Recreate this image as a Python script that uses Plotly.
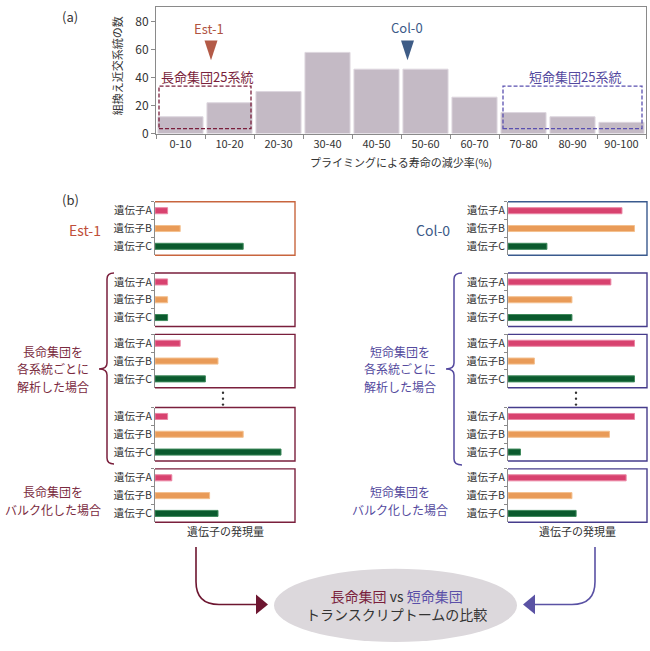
import plotly.graph_objects as go

W, H = 650, 651
def px(x): return x / W
def py(y): return 1 - y / H

FONT = "Noto Sans CJK JP"

# ---------------- data ----------------
hist_categories = ["0-10", "10-20", "20-30", "30-40", "40-50",
                   "50-60", "60-70", "70-80", "80-90", "90-100"]
hist_counts = [12, 22, 30, 58, 46, 46, 26, 15, 12, 8]

gene_labels = ["遺伝子A", "遺伝子B", "遺伝子C"]
gene_colors = ["#d8426f", "#e99b58", "#0b5a2e"]
gene_edges = ["#ea86a4", "#f3c08f", "#3f8a5c"]

est1_expr = [9, 18, 63]
long_line1_expr = [9, 9, 9]
long_line2_expr = [18, 45, 36]
long_line3_expr = [9, 63, 90]
long_bulk_expr = [12, 39, 45]

col0_expr = [82, 91, 28]
short_line1_expr = [74, 46, 46]
short_line2_expr = [91, 19, 91]
short_line3_expr = [91, 73, 9]
short_bulk_expr = [85, 46, 49]

MAROON = "#7a1f3c"
PURPLE = "#53489e"
EST_C = "#b0533f"
COL_C = "#3b5a88"

fig = go.Figure()

# ---------------- (a) histogram ----------------
fig.add_trace(go.Bar(
    x=hist_categories, y=hist_counts,
    marker=dict(color="#c4bac5", line=dict(color="#ddd6de", width=1)),
    width=0.92, xaxis="x", yaxis="y", hoverinfo="skip"))

layout = dict(
    width=W, height=H, margin=dict(l=0, r=0, t=0, b=0),
    paper_bgcolor="white", plot_bgcolor="white", showlegend=False,
    font=dict(family=FONT, color="#333333"),
    xaxis=dict(domain=[px(156), px(646)], anchor="y", showline=True, mirror=True,
               linecolor="#8a8a8a", linewidth=1, ticks="outside", tickson="boundaries",
               ticklen=4, tickcolor="#8a8a8a", tickfont=dict(size=11, color="#333"),
               showgrid=False, fixedrange=True),
    yaxis=dict(domain=[py(135), py(7)], anchor="x", range=[0, 90.5], showline=True,
               mirror=True, linecolor="#8a8a8a", linewidth=1, ticks="outside",
               ticklen=4, tickcolor="#8a8a8a", tickvals=[0, 20, 40, 60, 80],
               tickfont=dict(size=12, color="#333"), showgrid=False, zeroline=False),
)

annotations = []
shapes = []

def text(x, y, t, size, color, **kw):
    d = dict(x=px(x), y=py(y), xref="paper", yref="paper", text=t, showarrow=False,
             font=dict(size=size, color=color, family=FONT),
             xanchor="center", yanchor="middle")
    d.update(kw)
    annotations.append(d)

text(70, 17, "(a)", 13, "#333")
text(117, 67, "組換え近交系統の数", 11, "#333", textangle=-90)
text(401, 164, "プライミングによる寿命の減少率(%)", 11, "#333")
text(209, 29, "Est-1", 13, EST_C)
text(407, 28, "Col-0", 13, COL_C)
text(207, 77, "長命集団25系統", 13, MAROON)
text(575, 77, "短命集団25系統", 13, PURPLE)

def path_pts(pts, close=True):
    s = "M " + " L ".join(f"{px(a):.5f},{py(b):.5f}" for a, b in pts)
    return s + (" Z" if close else "")

# triangles
shapes.append(dict(type="path", xref="paper", yref="paper",
                   path=path_pts([(204.5, 41), (217.5, 41), (211, 61)]),
                   fillcolor="#b35a47", line=dict(width=0)))
shapes.append(dict(type="path", xref="paper", yref="paper",
                   path=path_pts([(401, 41), (414, 41), (407.5, 61)]),
                   fillcolor="#3e5c86", line=dict(width=0)))
# dashed group boxes
shapes.append(dict(type="rect", xref="paper", yref="paper",
                   x0=px(159), x1=px(251), y0=py(130), y1=py(87),
                   line=dict(color=MAROON, width=1.3, dash="4px,2px")))
shapes.append(dict(type="rect", xref="paper", yref="paper",
                   x0=px(503), x1=px(642), y0=py(130), y1=py(87),
                   line=dict(color="#5a50b0", width=1.3, dash="4px,2px")))

# ---------------- (b) panels ----------------
text(70, 202, "(b)", 13, "#333")

rows = [(204, 258), (276, 330), (338, 392), (412, 466), (474, 528)]
left_sets = [(est1_expr, "#c8653e"), (long_line1_expr, MAROON), (long_line2_expr, MAROON),
             (long_line3_expr, MAROON), (long_bulk_expr, MAROON)]
right_sets = [(col0_expr, "#3a5a8e"), (short_line1_expr, "#463c8c"), (short_line2_expr, "#463c8c"),
              (short_line3_expr, "#463c8c"), (short_bulk_expr, "#463c8c")]

n = 2
for (x0, x1), sets in (((155, 295), left_sets), ((508, 647), right_sets)):
    for (vals, bcol), (top, bot) in zip(sets, rows):
        fig.add_trace(go.Bar(
            x=vals, y=gene_labels, orientation="h", width=0.34,
            marker=dict(color=gene_colors, line=dict(color=gene_edges, width=1)),
            xaxis=f"x{n}", yaxis=f"y{n}", hoverinfo="skip"))
        layout[f"xaxis{n}"] = dict(domain=[px(x0), px(x1)], anchor=f"y{n}", range=[0, 100],
                                   visible=False, fixedrange=True)
        layout[f"yaxis{n}"] = dict(domain=[py(bot), py(top)], anchor=f"x{n}",
                                   autorange="reversed", showline=True, linecolor="#8a8a8a",
                                   linewidth=1, ticks="outside", tickson="boundaries",
                                   ticklen=3, tickcolor="#8a8a8a", showgrid=False,
                                   tickfont=dict(size=10.5, color="#333"))
        shapes.append(dict(type="path", xref="paper", yref="paper",
                           path=path_pts([(x0, top), (x1, top), (x1, bot), (x0, bot)], close=False),
                           line=dict(color=bcol, width=1.4)))
        n += 1

text(85, 232, "Est-1", 14, "#bf4f3a")
text(433, 232, "Col-0", 14, COL_C)

for cx, col in ((223, "#333"), (576, "#333")):
    for yy in (397, 403, 409):
        shapes.append(dict(type="circle", xref="paper", yref="paper",
                           x0=px(cx - 1.2), x1=px(cx + 1.2), y0=py(yy + 1.2), y1=py(yy - 1.2),
                           fillcolor=col, line=dict(width=0)))

# braces
def brace(x, xend, xtip, top, bot, mid, color):
    p = (f"M {px(xend)},{py(top)} Q {px(x)},{py(top)} {px(x)},{py(top+6)} "
         f"L {px(x)},{py(mid-6)} Q {px(x)},{py(mid)} {px(xtip)},{py(mid)} "
         f"Q {px(x)},{py(mid)} {px(x)},{py(mid+6)} "
         f"L {px(x)},{py(bot-6)} Q {px(x)},{py(bot)} {px(xend)},{py(bot)}")
    shapes.append(dict(type="path", xref="paper", yref="paper", path=p,
                       line=dict(color=color, width=1.5)))

brace(107, 114, 99, 276, 469, 373, MAROON)
brace(454, 462, 446, 276, 470, 373, PURPLE)

L_TXT = "#7a2a3e"
S_TXT = "#544a9e"
for cx, col, head in ((53, L_TXT, "長命集団を"), (400, S_TXT, "短命集団を")):
    for yy, t in ((355, head), (373, "各系統ごとに"), (391, "解析した場合")):
        text(cx, yy, t, 12, col, borderpad=0)
    for yy, t in ((497, head), (515, "バルク化した場合")):
        text(cx, yy, t, 12, col, borderpad=0)

text(225, 537, "遺伝子の発現量", 11, "#333")
text(577, 537, "遺伝子の発現量", 11, "#333")

# ---------------- bottom ----------------
shapes.insert(0, dict(type="circle", xref="paper", yref="paper",
                      x0=px(274), x1=px(517), y0=py(649), y1=py(575),
                      fillcolor="#dcd8dc", line=dict(width=0), layer="below"))

la = (f"M {px(196)},{py(553)} L {px(196)},{py(588)} Q {px(196)},{py(611)} {px(219)},{py(611)} "
      f"L {px(258)},{py(611)}")
shapes.append(dict(type="path", xref="paper", yref="paper", path=la,
                   line=dict(color="#6d1630", width=1.6)))
shapes.append(dict(type="path", xref="paper", yref="paper",
                   path=path_pts([(256, 601), (268, 611), (256, 621)]),
                   fillcolor="#6d1630", line=dict(width=0)))
ra = (f"M {px(595)},{py(553)} L {px(595)},{py(588)} Q {px(595)},{py(611)} {px(572)},{py(611)} "
      f"L {px(533)},{py(611)}")
shapes.append(dict(type="path", xref="paper", yref="paper", path=ra,
                   line=dict(color="#5a52a4", width=1.6)))
shapes.append(dict(type="path", xref="paper", yref="paper",
                   path=path_pts([(535, 601), (523, 611), (535, 621)]),
                   fillcolor="#5a52a4", line=dict(width=0)))

text(396, 612,
     "<span style='color:#7a1f3c'>長命集団</span> vs <span style='color:#5a4fa8'>短命集団</span>"
     "<br>トランスクリプトームの比較", 14, "#333")

layout["annotations"] = annotations
layout["shapes"] = shapes
fig.update_layout(**layout)
fig.write_html("out.html", config={"displayModeBar": False},
               post_script="document.body.style.margin='0';document.body.style.overflow='hidden';")
